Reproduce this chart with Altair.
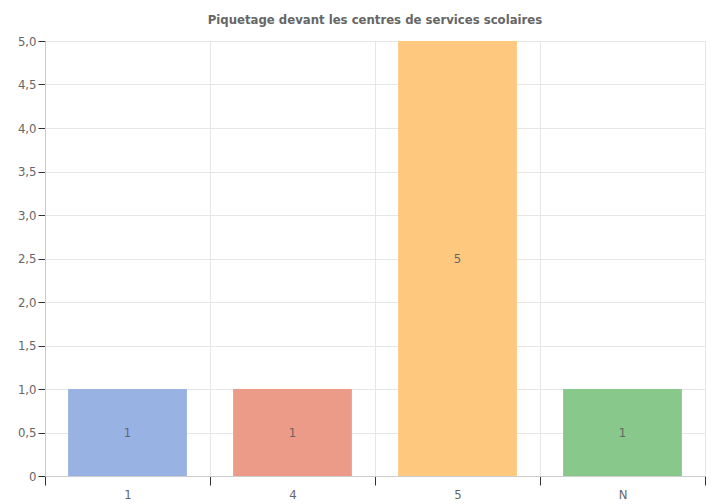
import altair as alt
import pandas as pd

categories = ["1", "4", "5", "N"]
values = [1, 1, 5, 1]
colors = ["#98b2e3", "#ec9b88", "#fec97f", "#88c88a"]
title = "Piquetage devant les centres de services scolaires"

df = pd.DataFrame({"cat": categories, "val": values, "half": [v / 2 for v in values], "color": colors})

font = "DejaVu Sans Condensed, Roboto, sans-serif"

x = alt.X("cat:N", sort=categories, title=None,
          scale=alt.Scale(paddingInner=0, paddingOuter=0),
          axis=alt.Axis(labelAngle=0, tickBand="extent", grid=True, gridColor="#e6e6e6",
                        domainColor="#cccccc", tickColor="#333333", tickSize=9,
                        labelPadding=3, labelColor="#666666", labelFont=font, labelFontSize=13))

bars = alt.Chart(df).mark_bar(width={"band": 0.72}).encode(
    x=x,
    y=alt.Y("val:Q", title=None, scale=alt.Scale(domain=[0, 5], nice=False),
            axis=alt.Axis(values=[0, 0.5, 1, 1.5, 2, 2.5, 3, 3.5, 4, 4.5, 5],
                          labelExpr="datum.value == 0 ? '0' : replace(format(datum.value, '.1f'), '.', ',')",
                          gridColor="#e6e6e6", domainColor="#cccccc", tickColor="#333333",
                          tickSize=7, labelColor="#666666", labelFont=font, labelFontSize=13,
                          labelPadding=2)),
    color=alt.Color("color:N", scale=None),
)

text = alt.Chart(df).mark_text(color="#666666", font=font, fontSize=13).encode(
    x=alt.X("cat:N", sort=categories),
    y=alt.Y("half:Q"),
    text=alt.Text("val:Q"),
)

chart = (bars + text).properties(
    width=660, height=435,
    title=alt.TitleParams(title, font=font, fontSize=13, fontWeight="bold", color="#666666", offset=8),
    autosize=alt.AutoSizeParams(type="none"),
    padding={"left": 37, "top": 33, "right": 4, "bottom": 28},
).configure_view(stroke=None)

chart.save("out.html", embed_options={"renderer": "svg", "actions": False})
